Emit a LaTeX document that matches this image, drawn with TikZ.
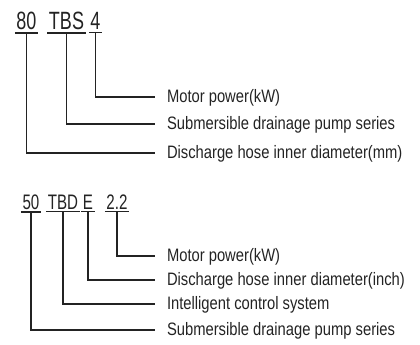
\documentclass[tikz,border=0pt]{standalone}
\usepackage{fontspec}
\setmainfont{Liberation Sans}[FakeStretch=0.82]
\newfontfamily\codefont{Liberation Sans}[FakeStretch=0.72]
\usepackage{tikz}
\usetikzlibrary{positioning}
\definecolor{inkgray}{RGB}{35,35,35}
\tikzset{
  basetext/.style={inner ysep=0pt,text=inkgray},
  codenode/.style={basetext,anchor=base,inner xsep=1.5pt,inner ysep=2.5pt,font=\codefont\fontsize{25}{27}\selectfont},
  codesmall/.style={codenode,font=\codefont\fontsize{21}{23}\selectfont},
  labelnode/.style={basetext,anchor=west,inner xsep=0pt,outer xsep=12pt,text height=13pt,text depth=3pt,font=\fontsize{18}{20}\selectfont},
  leader/.style={draw=inkgray,line width=1.2pt}
}
\begin{document}
\begin{tikzpicture}[x=1pt,y=-1pt]
  \useasboundingbox (0,0) rectangle (420,345);
  \node[codenode] (c80) at (26.5,30) {80};
  \node[codenode] (cTBS) at (66.5,30) {TBS};
  \node[codenode] (c4) at (95.5,30) {4};
  \node[labelnode] (lMotA) at (155,97) {Motor power(kW)};
  \node[labelnode] (lSubA) at (155,124) {Submersible drainage pump series};
  \node[labelnode] (lDisA) at (155,153) {Discharge hose inner diameter(mm)};

  \node[codesmall] (c50) at (31,209) {50};
  \node[codesmall] (cTBD) at (63,209) {TBD};
  \node[codesmall] (cE) at (88,209) {E};
  \node[codesmall] (c22) at (117,209) {2.2};
  \node[labelnode] (lMotB) at (155,256) {Motor power(kW)};
  \node[labelnode] (lDisB) at (155,280) {Discharge hose inner diameter(inch)};
  \node[labelnode] (lIntB) at (155,304) {Intelligent control system};
  \node[labelnode] (lSubB) at (155,330) {Submersible drainage pump series};

  \foreach \n in {c80,cTBS,c4,c50,cTBD,cE,c22}
    \draw[leader] (\n.south west) -- (\n.south east);

  \draw[leader] (c4.south) |- (lMotA.west);
  \draw[leader] (cTBS.south) |- (lSubA.west);
  \draw[leader] (c80.south) |- (lDisA.west);
  \draw[leader] (c22.south) |- (lMotB.west);
  \draw[leader] (cE.south) |- (lDisB.west);
  \draw[leader] (cTBD.south) |- (lIntB.west);
  \draw[leader] (c50.south) |- (lSubB.west);
\end{tikzpicture}
\end{document}
